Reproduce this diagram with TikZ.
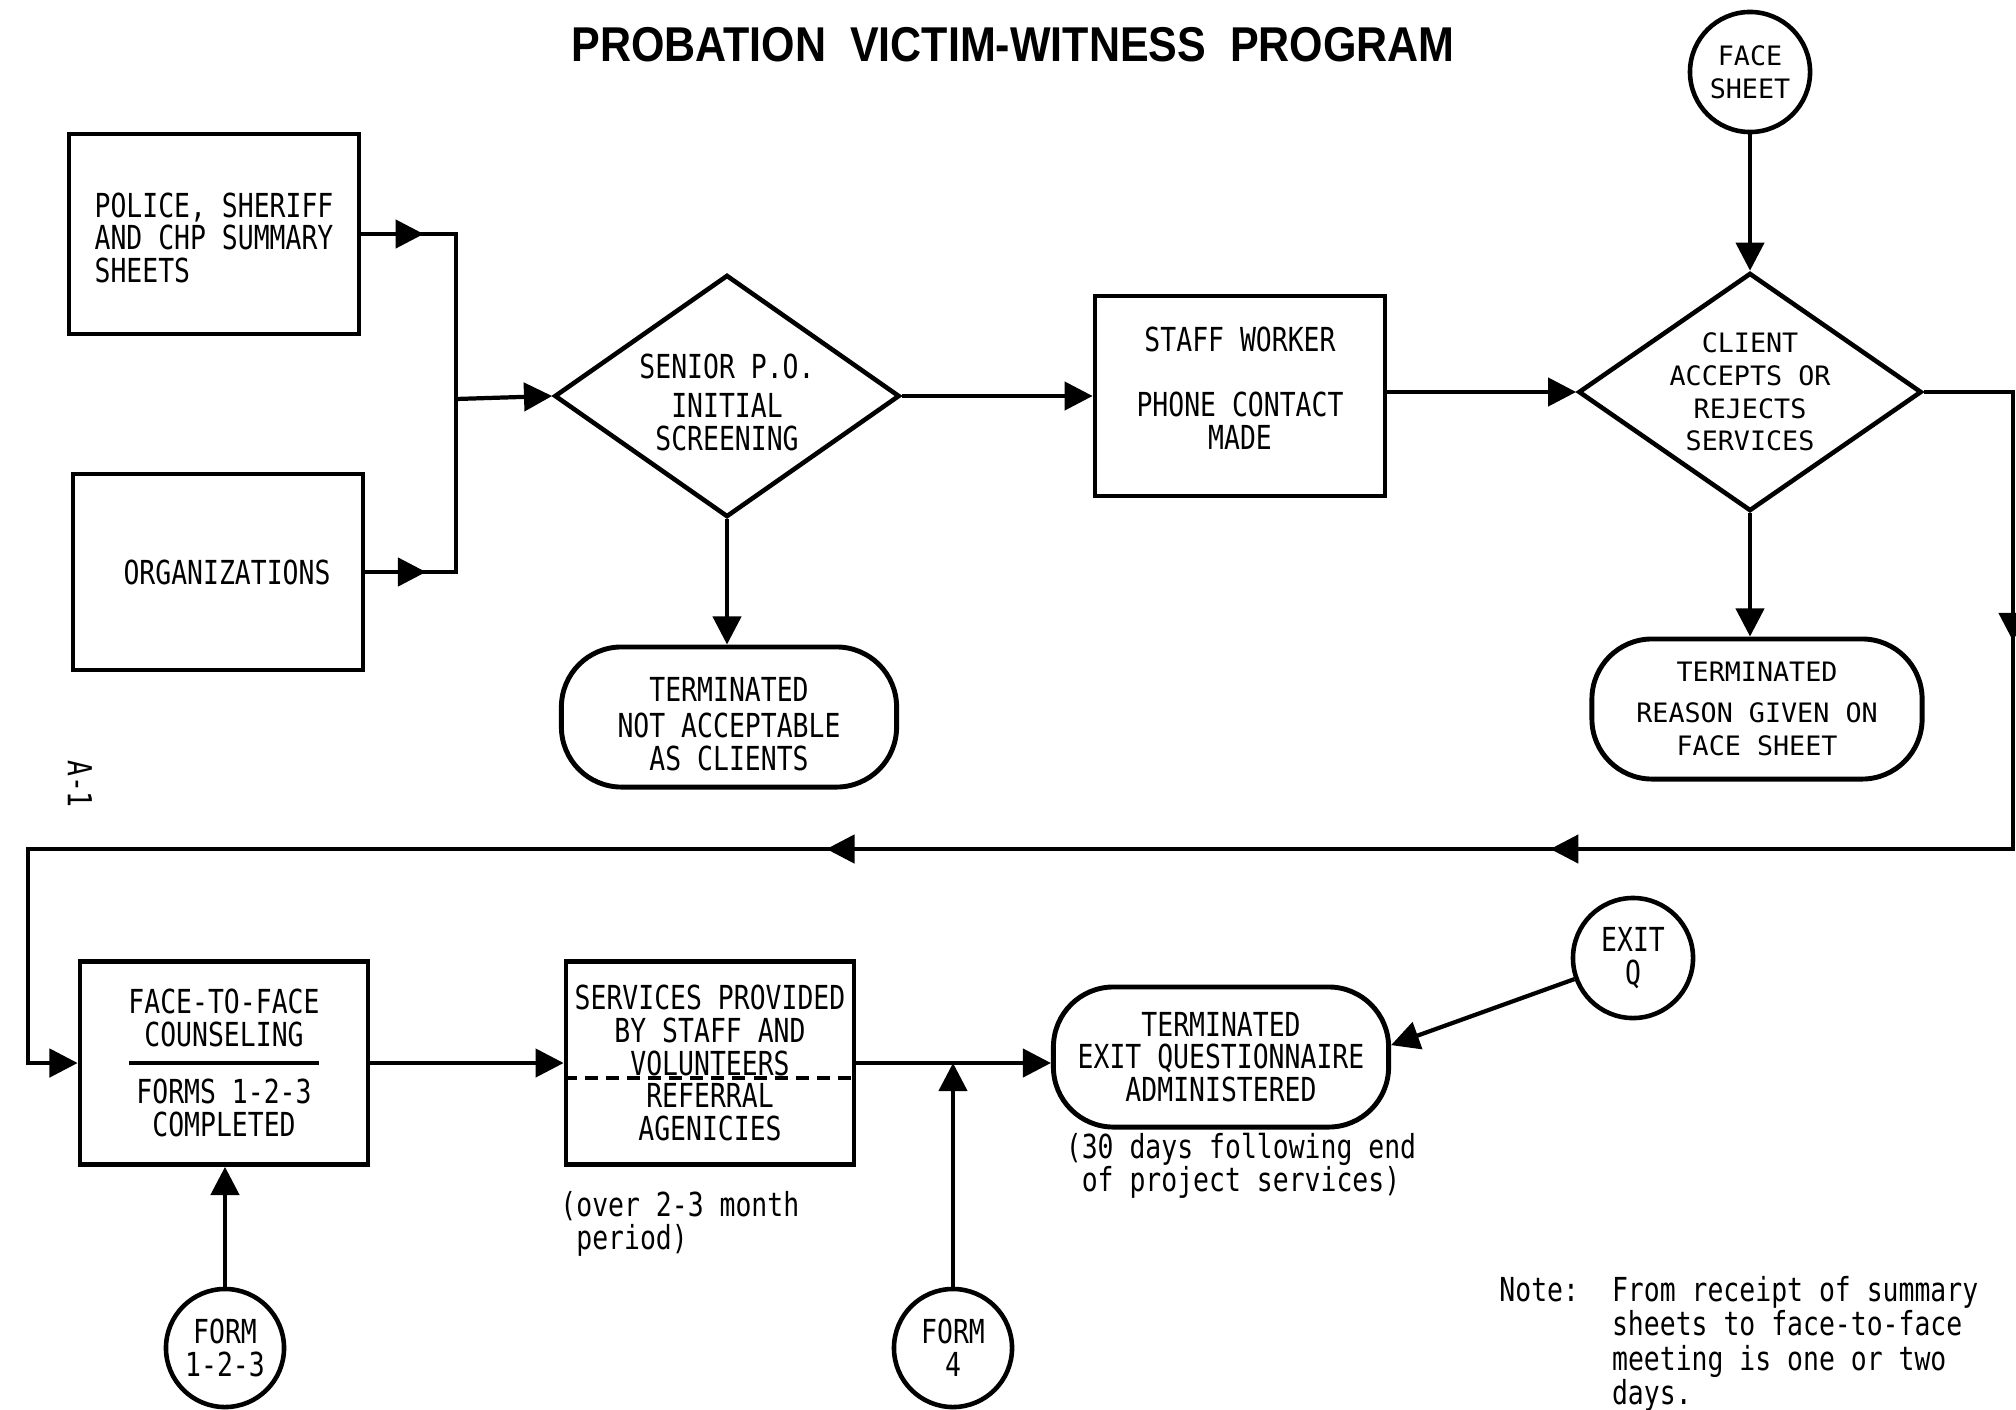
\documentclass[tikz,border=0pt]{standalone}
\usepackage{fontspec}
\usetikzlibrary{arrows.meta,calc,decorations.markings,shapes.geometric}
\newfontfamily\typefont[FakeStretch=0.8]{DejaVu Sans Mono}
\newfontfamily\widefont{DejaVu Sans Mono}
\newfontfamily\headfont[FakeStretch=0.88,WordSpace=2]{Liberation Sans}
\def\typed{\typefont\fontsize{9.4}{9.3}\selectfont}
\def\typedwide{\widefont\fontsize{7.6}{9.3}\selectfont}
% struts to nudge a text block up or down in its shape
\def\lifttext#1{\rule[-#1]{0pt}{0pt}}
\def\droptext#1{\rule{0pt}{#1}}

\tikzset{
	heavy/.style={line width=1.3pt},
	flowbox/.style={draw, heavy, minimum width=2.9cm, minimum height=2cm, inner sep=0pt, font=\typed, align=center},
	decision/.style={draw, heavy, diamond, aspect=1.43, minimum width=3.45cm, minimum height=2.42cm, inner sep=0pt, font=\typed, align=center},
	terminal/.style={draw, line width=1.4pt, rounded corners=0.6cm, minimum width=3.35cm, minimum height=1.4cm, inner sep=0pt, font=\typed, align=center},
	formcircle/.style={draw, heavy, circle, minimum size=1.18cm, inner sep=0pt, font=\typed, align=center},
	flow/.style={line width=1.2pt, ->},
	midarrow/.style={postaction={decorate, decoration={markings, mark=at position #1 with {\arrow{>}}}}},
}

\begin{document}
\begin{tikzpicture}[x=0.01cm, y=-0.01cm, >={Triangle[length=8pt,width=8pt]}]
		%%%%% START %%%%%
		\useasboundingbox (0,0) rectangle (2016,1409);
		
		\node (title) [font=\headfont\bfseries\fontsize{13.9}{16}\selectfont] at (1013,45) {PROBATION VICTIM-WITNESS PROGRAM};
		
		% top row
		\node (police) [flowbox, align=left] at (214,234) {\droptext{0.32cm}POLICE, SHERIFF\\AND CHP SUMMARY\\SHEETS};
		\node (orgs) [flowbox, minimum height=1.96cm] at (218,572) {\hspace*{0.18cm}ORGANIZATIONS};
		\coordinate (bus) at (456,399);
		\node (senior) [decision] at (727,396) {\droptext{0.37cm}SENIOR P.O.\\[2pt]INITIAL\\SCREENING};
		\node (term1) [terminal] at (729,717) {\droptext{0.38cm}TERMINATED\\[1pt]NOT ACCEPTABLE\\AS CLIENTS};
		\node (staff) [flowbox] at (1240,396) {STAFF WORKER\\[9.3pt]PHONE CONTACT\\MADE\lifttext{0.16cm}};
		\node (facesheet) [formcircle, minimum size=1.2cm, font=\typedwide] at (1750,72) {FACE\\SHEET};
		\node (client) [decision, minimum width=3.43cm, minimum height=2.38cm, font=\typedwide] at (1750,392) {CLIENT\\ACCEPTS OR\\REJECTS\\SERVICES};
		\node (term2) [terminal, minimum width=3.3cm, font=\typedwide] at (1757,709) {TERMINATED\\[2.3pt]REASON GIVEN ON\\FACE SHEET};
		
		\draw[flow, -, midarrow=0.24] (police.east) -| (bus);
		\draw[flow, -, midarrow=0.23] (orgs.east) -| (bus);
		\draw[flow] (bus) -- (senior.west);
		\draw[flow] (senior.south) -- (senior.south |- term1.north);
		\draw[flow] (senior.east) -- (staff.west |- senior.east);
		\draw[flow] (staff.east |- client.west) -- (client.west);
		\draw[flow] (facesheet) -- (client.north);
		\draw[flow] (client.south) -- (client.south |- term2.north);
		
		% return loop
		\coordinate (loopne) at (2013,392);
		\coordinate (loopse) at (2013,849);
		\coordinate (loopsw) at (28,849);
		\coordinate (loopnw) at (28,1063);
		
		% bottom row
		\node (counsel) [flowbox, minimum width=2.88cm, minimum height=2.03cm] at (224,1063) {FACE-TO-FACE\\COUNSELING\\[7pt]FORMS 1-2-3\\COMPLETED};
		\node (services) [flowbox, minimum width=2.88cm, minimum height=2.03cm] at (710,1063) {SERVICES PROVIDED\\BY STAFF AND\\VOLUNTEERS\\REFERRAL\\AGENICIES};
		\node (exitterm) [terminal] at (1221,1057) {TERMINATED\\EXIT QUESTIONNAIRE\\ADMINISTERED};
		\node (exitq) [formcircle, minimum size=1.2cm] at (1633,958) {EXIT\\Q};
		\node (form123) [formcircle] at (225,1348) {FORM\\1-2-3};
		\node (form4) [formcircle] at (953,1348) {FORM\\4};
		\coordinate (joinfour) at (953,1063);
		
		\draw[flow, midarrow=0.121, midarrow=0.361, midarrow=0.62] (client.east) -- (loopne) -- (loopse) -- (loopsw) -- (loopnw) -- (counsel.west);
		\draw[line width=1pt] ([xshift=-0.95cm]counsel.center) -- ([xshift=0.95cm]counsel.center);
		\draw[line width=1pt, dash pattern=on 3.7pt off 2.3pt] ([yshift=-0.15cm]services.west) -- ([yshift=-0.15cm]services.east);
		\draw[flow] (counsel.east) -- (services.west);
		\draw[flow] (services.east) -- (services.east -| exitterm.west);
		\draw[flow] (form123.north) -- (form123.north |- counsel.south);
		\draw[flow] (form4.north) -- (joinfour);
		\draw[flow] (exitq) -- (exitterm.4);
		
		% remarks
		\node (periodnote) [font=\typed, align=left, anchor=north west] at (548,1179) {(over 2-3 month\\~period)};
		\node (daysnote) [font=\typed, align=center] at (1241,1166) {(30 days following end\\of project services)};
		\node (note) [font=\typed, anchor=north west] at (1487,1264) {\renewcommand\arraystretch{0.94}\begin{tabular}{@{}l@{\hspace{0.33cm}}l@{}}Note: & From receipt of summary\\ & sheets to face-to-face\\ & meeting is one or two\\ & days.\end{tabular}};
		\node (pagenum) [font=\typed, rotate=-90] at (80,784) {A-1};
		
		%%%%% END %%%%%
	\end{tikzpicture}
\end{document}
